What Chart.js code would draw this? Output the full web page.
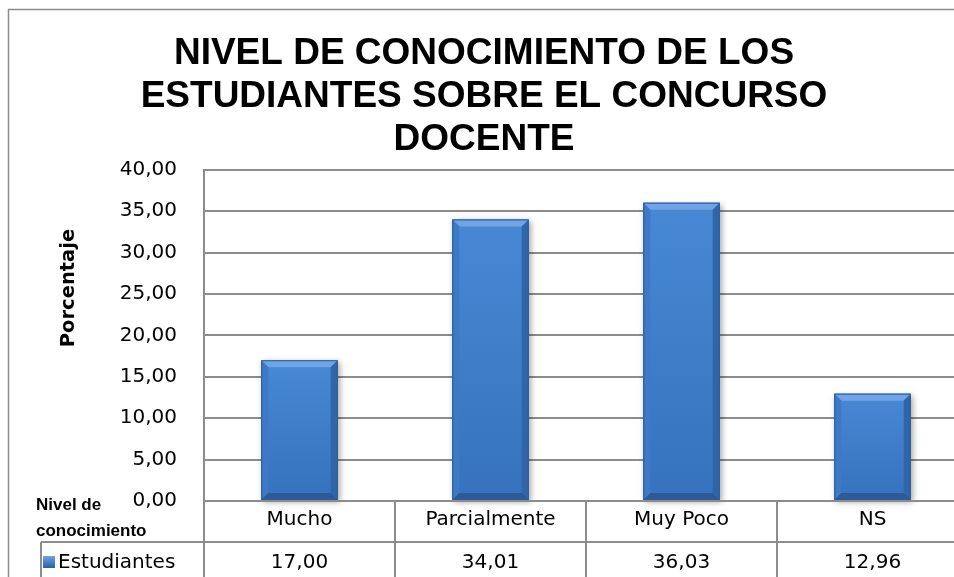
<!DOCTYPE html>
<html>
<head>
<meta charset="utf-8">
<script src="https://cdn.jsdelivr.net/npm/chart.js@4.4.1/dist/chart.umd.min.js"></script>
<style>
  html, body { margin: 0; padding: 0; background: #fff; overflow: hidden; }
</style>
</head>
<body>
<canvas id="myChart" width="980" height="577"></canvas>
<script>
// datos del grafico
var categorias = ['Mucho', 'Parcialmente', 'Muy Poco', 'NS'];
var estudiantes = [17.00, 34.01, 36.03, 12.96];
var serieNombre = 'Estudiantes';
var titulo = ['NIVEL DE CONOCIMIENTO DE LOS', 'ESTUDIANTES SOBRE EL CONCURSO', 'DOCENTE'];
var ejeY = 'Porcentaje';
var ejeX = ['Nivel de', 'conocimiento'];
var yMin = 0, yMax = 40, yPaso = 5;

var fuente = '"DejaVu Sans", sans-serif';
var gris = '#8c8c8c';

function coma(v) {
    return v.toFixed(2).replace('.', ',');
}

// marco, tabla de datos y bisel de las barras
var tablaPlugin = {
    id: 'tabla',
    beforeDraw: function(chart) {
        var c = chart.ctx;
        c.save();
        c.strokeStyle = gris;
        c.lineWidth = 1.5;
        c.strokeRect(8.5, 9.5, 964, 600);
        c.restore();
    },
    beforeDatasetsDraw: function(chart) {
        var c = chart.ctx;
        var meta = chart.getDatasetMeta(0);
        c.save();
        meta.data.forEach(function(bar) {
            c.shadowColor = 'rgba(0,0,0,0.35)';
            c.shadowBlur = 6;
            c.shadowOffsetX = 2;
            c.shadowOffsetY = 2;
            c.fillStyle = '#3d7cc8';
            c.fillRect(bar.x - bar.width / 2, bar.y, bar.width, bar.base - bar.y);
        });
        c.restore();
    },
    afterDatasetsDraw: function(chart) {
        var c = chart.ctx;
        var meta = chart.getDatasetMeta(0);
        var b = 7;
        c.save();
        meta.data.forEach(function(bar) {
            var l = bar.x - bar.width / 2, r = bar.x + bar.width / 2;
            var t = bar.y, bo = bar.base;
            var g = c.createLinearGradient(0, t, 0, bo);
            g.addColorStop(0, '#4888d4');
            g.addColorStop(1, '#3672bd');
            c.fillStyle = g;
            c.fillRect(l, t, r - l, bo - t);
            // arriba
            c.fillStyle = '#6fa4e6';
            c.beginPath();
            c.moveTo(l, t); c.lineTo(r, t); c.lineTo(r - b, t + b); c.lineTo(l + b, t + b);
            c.closePath(); c.fill();
            // izquierda
            c.fillStyle = '#3d79c4';
            c.beginPath();
            c.moveTo(l, t); c.lineTo(l + b, t + b); c.lineTo(l + b, bo - b); c.lineTo(l, bo);
            c.closePath(); c.fill();
            // derecha
            c.fillStyle = '#3066a8';
            c.beginPath();
            c.moveTo(r, t); c.lineTo(r - b, t + b); c.lineTo(r - b, bo - b); c.lineTo(r, bo);
            c.closePath(); c.fill();
            // abajo
            c.fillStyle = '#2a5a98';
            c.beginPath();
            c.moveTo(l, bo); c.lineTo(l + b, bo - b); c.lineTo(r - b, bo - b); c.lineTo(r, bo);
            c.closePath(); c.fill();
            c.strokeStyle = '#2c5c99';
            c.lineWidth = 1;
            c.strokeRect(l + 0.5, t + 0.5, r - l - 1, bo - t - 1);
        });
        c.restore();
    },
    afterDraw: function(chart) {
        var c = chart.ctx;
        var x = chart.scales.x;
        var area = chart.chartArea;
        var fila2 = area.bottom + 41;
        var fin = chart.height;
        c.save();
        c.strokeStyle = gris;
        c.lineWidth = 2;
        c.beginPath();
        // lineas horizontales
        c.moveTo(area.left, area.bottom); c.lineTo(area.right, area.bottom);
        c.moveTo(41, fila2); c.lineTo(area.right, fila2);
        // lineas verticales
        c.moveTo(41, fila2); c.lineTo(41, fin);
        var bordes = [area.left];
        for (var i = 1; i < categorias.length; i++) {
            bordes.push((x.getPixelForValue(i - 1) + x.getPixelForValue(i)) / 2);
        }
        bordes.push(area.right);
        bordes.forEach(function(px) {
            c.moveTo(Math.round(px), area.bottom); c.lineTo(Math.round(px), fin);
        });
        c.stroke();

        // valores
        c.fillStyle = '#000';
        c.font = '20px ' + fuente;
        c.textAlign = 'center';
        c.textBaseline = 'middle';
        estudiantes.forEach(function(v, i) {
            c.fillText(coma(v), x.getPixelForValue(i), fila2 + 21);
        });

        // leyenda en la tabla
        var g = c.createLinearGradient(0, 556, 0, 568);
        g.addColorStop(0, '#6ea3e6');
        g.addColorStop(1, '#2b5f9f');
        c.fillStyle = g;
        c.fillRect(43, 556, 12, 12);
        c.fillStyle = '#000';
        c.textAlign = 'left';
        c.fillText(serieNombre, 58, fila2 + 21);

        // titulo eje x
        c.font = 'bold 17px "Liberation Sans", Arial, sans-serif';
        c.textBaseline = 'alphabetic';
        c.fillText(ejeX[0], 36, 510);
        c.fillText(ejeX[1], 36, 536);

        // titulo eje y
        c.font = 'bold 19.5px ' + fuente;
        c.translate(69, 288);
        c.rotate(-Math.PI / 2);
        c.textAlign = 'center';
        c.textBaseline = 'middle';
        c.fillText(ejeY, 0, 0);
        c.restore();
    }
};

var data1 = {
    labels: categorias,
    datasets: [
        {
            label: serieNombre,
            data: estudiantes,
            backgroundColor: 'rgba(0,0,0,0)',
            categoryPercentage: 0.8,
            barPercentage: 0.5
        }
    ]
};

var options = {
    responsive: false,
    animation: false,
    layout: {
        padding: { left: 0, right: 12, top: 0, bottom: 0 }
    },
    plugins: {
        legend: { display: false },
        tooltip: { enabled: false },
        title: {
            display: true,
            text: titulo,
            color: '#000',
            font: { family: '"Liberation Sans", Arial, sans-serif', size: 37, weight: 'bold', lineHeight: 1.17 },
            padding: { top: 32, bottom: 8 }
        }
    },
    scales: {
        x: {
            grid: { display: false, drawTicks: false },
            border: { display: false },
            ticks: {
                color: '#000',
                font: { family: fuente, size: 20 },
                padding: 7,
                maxRotation: 0
            },
            afterFit: function(scale) { scale.height = 76; }
        },
        y: {
            min: yMin,
            max: yMax,
            grid: { color: gris, lineWidth: 2, drawTicks: false },
            border: { display: true, color: gris, width: 2 },
            ticks: {
                stepSize: yPaso,
                color: '#000',
                font: { family: fuente, size: 20 },
                padding: 27,
                callback: function(v) { return coma(v); }
            },
            afterFit: function(scale) { scale.width = 204; }
        }
    }
};

var ctx1 = document.getElementById('myChart').getContext('2d');
var myBarChart = new Chart(ctx1, {
    type: 'bar',
    data: data1,
    options: options,
    plugins: [tablaPlugin]
});
</script>
</body>
</html>
